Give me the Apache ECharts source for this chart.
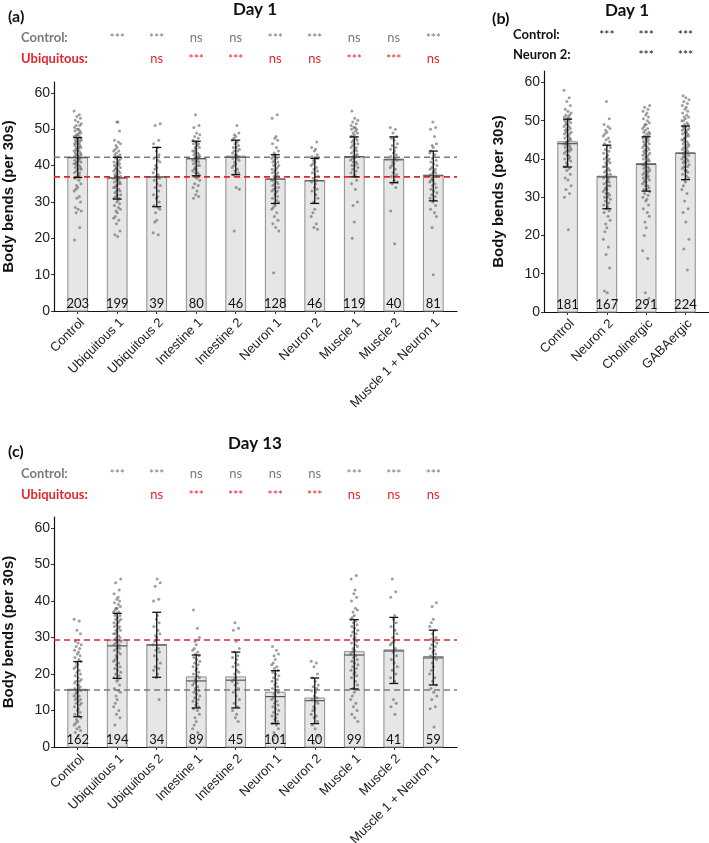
<!DOCTYPE html>
<html><head><meta charset="utf-8">
<script src="https://cdn.jsdelivr.net/npm/echarts@6/dist/echarts.min.js"></script>
<style>html,body{margin:0;padding:0;background:#fff}#c{width:709px;height:843px}</style>
</head><body><div id="c"></div>
<script>
// ---------- DATA ----------
const catsA = ['Control','Ubiquitous 1','Ubiquitous 2','Intestine 1','Intestine 2','Neuron 1','Neuron 2','Muscle 1','Muscle 2','Muscle 1 + Neuron 1'];
const barA = [42.3,36.6,36.8,41.9,42.6,36.3,35.9,42.5,41.8,37.4];
const midA = [42.2,36.6,36.9,41.9,42.3,36.3,35.8,42.4,41.6,37.2];
const loA  = [36.7,30.8,28.7,37.2,37.5,29.6,29.6,36.9,35.3,30.3];
const hiA  = [47.7,42.3,45.0,46.7,47.0,43.0,42.0,47.9,47.9,44.0];
const nA   = [203,199,39,80,46,128,46,119,40,81];
const refA = [42.3, 36.9];
const sigCtrlA = ['','***','***','ns','ns','***','***','ns','ns','***'];
const sigUbqA  = ['','','ns','***','***','ns','ns','***','***','ns'];
const ptsA = [
 [55,54,53.5,53,52.5,52,51.5,51,51,50.5,50,50,49.5,49.5,49,49,48.5,48.5,48,48,48,47.5,47.5,47,47,47,46.5,46.5,46,46,46,45.5,45.5,45,45,45,44.5,44.5,44,44,44,43.5,43.5,43,43,43,42.5,42.5,42,42,42,41.5,41.5,41,41,41,40.5,40.5,40,40,39.5,39.5,39,39,38.5,38,38,37.5,37,37,36.5,36,35,34.5,34,33.5,33,31.5,31,30,28.5,28,27.5,27,23,19.5],
 [52,52,49.5,47,46.5,46,45.5,45,44.5,44,44,43.5,43,43,42.5,42,42,41.5,41,41,40.5,40.5,40,40,39.5,39.5,39,39,38.5,38.5,38,38,37.5,37.5,37,37,36.5,36.5,36,36,35.5,35.5,35,35,34.5,34.5,34,34,33.5,33,33,32.5,32,32,31.5,31,31,30.5,30,29.5,29,28.5,28,27.5,27,26,25.5,25,24,22,21,20.5],
 [51.5,51,47,46,45,44,43,42,41.5,41,40,39.5,39,38,37.5,37,36.5,36,35,34.5,34,33,32,31.5,31,30,29,28.5,28,27,25,24.5,21.5,21],
 [54,51,50.5,49,48.5,48,47.5,47,46.5,46.5,46,46,45.5,45,45,44.5,44,44,43.5,43.5,43,43,42.5,42.5,42,42,41.5,41.5,41,41,40.5,40,40,39.5,39,39,38.5,38,38,37.5,37,36.5,36,35,34.5,34,33,32,31.5,31],
 [51,49,48.5,48,47.5,47,46.5,46,45.5,45,45,44.5,44,44,43.5,43,43,42.5,42,42,41.5,41,40.5,40,39.5,39,38.5,38,37.5,34,33.5,22],
 [54,53,48,47.5,47,46,45,44,43.5,43,42.5,42,42,41.5,41,41,40.5,40,40,39.5,39,39,38.5,38,38,37.5,37,37,36.5,36,36,35.5,35,35,34.5,34,34,33.5,33,33,32.5,32,31.5,31,30.5,30,29.5,29,28.5,28,27,26,25,24,23,22,10.5],
 [46.5,45,44.5,44,43,42.5,42,42,41.5,41,40.5,40,39.5,39,38.5,38,37.5,37,36.5,36,35.5,35,34,33.5,33,32,31,30,28,27,26,24,23,22.5],
 [55,53,52.5,52,51.5,51,50.5,50.5,50,50,49.5,49,49,48.5,48,48,47.5,47,47,46.5,46,46,45.5,45,45,44.5,44,44,43.5,43,43,42.5,42,42,41.5,41,41,40.5,40,40,39.5,39,38.5,38,37.5,37,36,35,33.5,30,29,24.5,20],
 [50.5,50,49,48,47.5,47,46,45.5,45,44.5,44,43.5,43,42.5,42,41.5,41,40.5,40,39.5,39,38,37.5,37,36,35.5,35,34,27.5,18.5],
 [52,50.5,50,48,46,45.5,45,44,43.5,43,42,41.5,41,40.5,40,39.5,39,39,38.5,38,38,37.5,37,37,36.5,36,36,35.5,35,34.5,34,33.5,33,32.5,32,31.5,31,30.5,30,29,28,27,26,23,10]
];

const catsB = ['Control','Neuron 2','Cholinergic','GABAergic'];
const barB = [44.5,35.5,38.8,41.6];
const midB = [44.0,35.3,38.6,41.5];
const loB  = [37.9,27.0,31.6,34.6];
const hiB  = [50.4,43.6,45.8,48.6];
const nB   = [181,167,291,224];
const sigCtrlB = ['','***','***','***'];
const sigN2B   = ['','','***','***'];
const ptsB = [
 [58,56,55,54,53,52.5,52,51.5,51.5,51,51,50.5,50.5,50,50,49.5,49.5,49,49,48.5,48.5,48,48,47.5,47.5,47,47,46.5,46.5,46,46,45.5,45.5,45,45,44.5,44.5,44,44,43.5,43.5,43,43,42.5,42.5,42,42,41.5,41,41,40.5,40,40,39.5,39,38.5,38,38,37.5,37,36,35,34.5,33,32,31,30,21.5],
 [55,50.5,49,48.5,48,47.5,47,46.5,46,45.5,45,44.5,44,43.5,43,42.5,42,41.5,41,40.5,40,40,39.5,39,39,38.5,38,38,37.5,37,37,36.5,36,36,35.5,35,35,34.5,34,34,33.5,33,33,32.5,32,32,31.5,31,31,30.5,30,30,29.5,29,28.5,28,27.5,27,26.5,26,25,24,23,22,21,19,17,15,11.5,5.5,5],
 [54,53.5,53,52.5,52,51.5,51,50.5,50,49.5,49,49,48.5,48,48,47.5,47,47,46.5,46.5,46,46,45.5,45.5,45,45,44.5,44.5,44,44,43.5,43.5,43,43,42.5,42.5,42,42,41.5,41.5,41,41,40.5,40.5,40,40,39.5,39.5,39,39,38.5,38.5,38,38,37.5,37.5,37,37,36.5,36.5,36,36,35.5,35.5,35,35,34.5,34.5,34,34,33.5,33,33,32.5,32,32,31.5,31,30.5,30,29.5,29,28,27,26,25,23.5,22,20,16,14,5,3.5],
 [56.5,56,55.5,55,54.5,54,53.5,53,52.5,52,51.5,51,51,50.5,50,50,49.5,49,49,48.5,48.5,48,48,47.5,47.5,47,47,46.5,46.5,46,46,45.5,45.5,45,45,44.5,44.5,44,44,43.5,43.5,43,43,42.5,42.5,42,42,41.5,41.5,41,41,40.5,40.5,40,40,39.5,39.5,39,39,38.5,38,38,37.5,37,37,36.5,36,35.5,35,34.5,34,33,32,31,29,27,26,23.5,19,16.5,11]
];

const catsC = catsA;
const barC = [15.8,29.3,28.1,19.2,19.2,15.0,13.4,26.1,26.6,24.8];
const midC = [15.6,27.7,27.9,18.1,18.3,13.8,12.7,25.2,26.3,24.4];
const loC  = [8.3,18.8,19.1,10.7,10.7,6.4,6.4,15.9,17.4,17.0];
const hiC  = [23.4,36.6,36.9,25.2,26.0,20.9,18.9,34.9,35.5,32.0];
const nC   = [162,194,34,89,45,101,40,99,41,59];
const refC = [15.6, 29.3];
const sigCtrlC = ['','***','***','ns','ns','ns','ns','***','***','***'];
const sigUbqC  = ['','','ns','***','***','***','***','ns','ns','ns'];
const ptsC = [
 [35,34.5,32,31,29,28.5,28,27.5,27,26.5,26,25.5,25,24.5,24,23.5,23,22.5,22,21.5,21,20.5,20,19.5,19,18.5,18,18,17.5,17,17,16.5,16,16,15.5,15,15,14.5,14,14,13.5,13,13,12.5,12,12,11.5,11,10.5,10,9.5,9,8.5,8,7.5,7,6.5,6,5.5,5,4.5,4,3],
 [46,45,43,42,41,40.5,40,39.5,39,38.5,38,38,37.5,37,37,36.5,36,36,35.5,35,35,34.5,34,34,33.5,33,33,32.5,32,32,31.5,31,31,30.5,30,30,29.5,29,29,28.5,28,28,27.5,27,27,26.5,26,25.5,25,24.5,24,23.5,23,22.5,22,21.5,21,20.5,20,19.5,19,18.5,18,17,16,15.5,15,14,13,12,11,10,9,8,6],
 [46,45,44,40.5,40,36,35,34,33,32,31,30.5,30,29,28,27,26.5,26,25,24,23,22,21.5,21,20,19,13],
 [37.5,32.5,30,29,28,27,26.5,26,25.5,25,24.5,24,23.5,23,22.5,22,21.5,21,20.5,20,19.5,19,18.5,18,17.5,17,16.5,16,15.5,15,14.5,14,13.5,13,12.5,12,11.5,11,10.5,10,9,8,7,6,5,4],
 [34,32.5,32,29,27,26,25,24.5,24,23,22.5,22,21,20.5,20,19,18.5,18,17.5,17,16,15,14,13,12,11,10,9,8,7],
 [27.5,26.5,25.5,25,24,23,22.5,22,21.5,21,20.5,20,19.5,19,18.5,18,17.5,17,16.5,16,15.5,15,14.5,14,13.5,13,12.5,12,11.5,11,10.5,10,9.5,9,8.5,8,7.5,7,6.5,6,5,4,3,2],
 [23.5,23,22,20,19,18,17,16.5,16,15.5,15,14,13.5,13,12.5,12,11,10.5,10,9,8.5,8,7,6,5,3,1],
 [47,46,43,42,41,40,38,37.5,37,36,35.5,35,34.5,34,33.5,33,32.5,32,31.5,31,30.5,30,29.5,29,28.5,28,27.5,27,26.5,26,25.5,25,24.5,24,23.5,23,22.5,22,21.5,21,20.5,20,19.5,19,18,17,16,15,14,13,12,11,10,9,8,7],
 [46,42.5,41,36,35,34,33,32,31,30,29,28.5,28,27,26,25,24,23,22,21,20,19,18,13,12,11,9],
 [39.5,38.5,35,34,33,32,31,30,29.5,29,28.5,28,27.5,27,26.5,26,25.5,25,24.5,24,23,22,21,20,19,18,17,16,15,14,13,11,10.5,5.5]
];
const yTicks = [0,10,20,30,40,50,60];

// ---------- STYLE / LAYOUT ----------
const GREY = '#7a7a7a', RED = '#e3262b';
const jit = [-0.09,0.04,-0.02,0.07,-0.06,0.01,0.09,-0.04,0.05,-0.08,0.02,-0.01,0.06,-0.07,0.03,0.08,-0.03,0.0,-0.05];
const panels = [
 {cats:catsA,bar:barA,mid:midA,lo:loA,hi:hiA,n:nA,pts:ptsA,
  refs:[{v:refA[0],c:GREY},{v:refA[1],c:RED}],
  grid:{left:54,top:82,width:403,height:229},
  rows:[{label:'Control:',marks:sigCtrlA,color:GREY,y:38},{label:'Ubiquitous:',marks:sigUbqA,color:RED,y:59}],
  labelX:21,title:'Day 1',titleX:255,titleY:10,tag:'(a)',tagX:8,tagY:17,nameGap:38},
 {cats:catsB,bar:barB,mid:midB,lo:loB,hi:hiB,n:nB,pts:ptsB,refs:[],
  grid:{left:544,top:71,width:165,height:241},
  rows:[{label:'Control:',marks:sigCtrlB,color:'#111',y:35},{label:'Neuron 2:',marks:sigN2B,color:'#111',y:55}],
  labelX:513,title:'Day 1',titleX:627,titleY:11,tag:'(b)',tagX:492,tagY:19,nameGap:38},
 {cats:catsC,bar:barC,mid:midC,lo:loC,hi:hiC,n:nC,pts:ptsC,
  refs:[{v:refC[0],c:GREY},{v:refC[1],c:RED}],
  grid:{left:54,top:517,width:403,height:230},
  rows:[{label:'Control:',marks:sigCtrlC,color:GREY,y:474},{label:'Ubiquitous:',marks:sigUbqC,color:RED,y:495}],
  labelX:21,title:'Day 13',titleX:255,titleY:444,tag:'(c)',tagX:8,tagY:452,nameGap:38}
];

const grids=[], xAxes=[], yAxes=[], series=[], graphics=[];
panels.forEach((p,g)=>{
  const idx = p.cats.map((_,i)=>i);
  grids.push(Object.assign({outerBoundsMode:'none',containLabel:false},p.grid));
  xAxes.push({gridIndex:g,type:'value',min:-0.6,max:p.cats.length-0.4,
    axisLine:{show:true,onZero:false,lineStyle:{color:'#111',width:1.2}},
    axisTick:{show:true,customValues:idx,length:3,lineStyle:{color:'#333'}},
    axisLabel:{customValues:idx,formatter:v=>p.cats[Math.round(v)],rotate:45,margin:5,
      verticalAlign:'top',fontFamily:'Liberation Sans',fontSize:13,color:'#222'},
    splitLine:{show:false}});
  yAxes.push({gridIndex:g,type:'value',min:0,max:63,
    axisLine:{show:true,onZero:false,lineStyle:{color:'#111',width:1.2}},
    axisTick:{show:true,customValues:yTicks,length:3,lineStyle:{color:'#333'}},
    axisLabel:{customValues:yTicks,fontFamily:'Liberation Sans',fontSize:14,color:'#222',margin:4},
    splitLine:{show:false},
    name:'Body bends (per 30s)',nameLocation:'middle',nameGap:p.nameGap,
    nameTextStyle:{fontFamily:'Liberation Sans',fontWeight:'bold',fontSize:15,color:'#111'}});
  // bars
  series.push({type:'custom',xAxisIndex:g,yAxisIndex:g,z:1,
    data:p.bar.map((v,i)=>[i,v]),
    renderItem:(params,api)=>{
      const i=api.value(0), v=api.value(1);
      const a=api.coord([i-0.25,v]), b=api.coord([i+0.25,0]);
      return {type:'rect',shape:{x:a[0],y:a[1],width:b[0]-a[0],height:b[1]-a[1]},
        style:{fill:'#e6e6e6',stroke:'#8c8c8c',lineWidth:1}};
    }});
  // reference lines
  p.refs.forEach(r=>{
    series.push({type:'line',xAxisIndex:g,yAxisIndex:g,z:3,symbol:'none',silent:true,
      data:[[-0.6,r.v],[p.cats.length-0.4,r.v]],
      lineStyle:{color:r.c,width:1.6,type:[6,4]}});
  });
  // points
  const pd=[]; let k=0;
  p.pts.forEach((arr,i)=>arr.forEach(v=>{pd.push([i+jit[k%jit.length],v]);k++;}));
  series.push({type:'scatter',xAxisIndex:g,yAxisIndex:g,z:4,symbolSize:3,silent:true,
    itemStyle:{color:'rgba(95,95,95,0.75)'},data:pd});
  // error bars + centre line
  series.push({type:'custom',xAxisIndex:g,yAxisIndex:g,z:5,
    data:p.lo.map((v,i)=>[i,v,p.hi[i],p.mid[i]]),
    renderItem:(params,api)=>{
      const i=api.value(0);
      const lo=api.coord([i,api.value(1)]), hi=api.coord([i,api.value(2)]);
      const mL=api.coord([i-0.25,api.value(3)]), mR=api.coord([i+0.25,api.value(3)]);
      const cw=4.5, st={stroke:'#111',lineWidth:1.3};
      return {type:'group',children:[
        {type:'line',shape:{x1:mL[0],y1:mL[1],x2:mR[0],y2:mR[1]},style:{stroke:'#555',lineWidth:1.2}},
        {type:'line',shape:{x1:lo[0],y1:lo[1],x2:hi[0],y2:hi[1]},style:st},
        {type:'line',shape:{x1:hi[0]-cw,y1:hi[1],x2:hi[0]+cw,y2:hi[1]},style:st},
        {type:'line',shape:{x1:lo[0]-cw,y1:lo[1],x2:lo[0]+cw,y2:lo[1]},style:st}
      ]};
    }});
  // counts
  series.push({type:'custom',xAxisIndex:g,yAxisIndex:g,z:6,
    data:p.n.map((v,i)=>[i,0,v]),
    renderItem:(params,api)=>{
      const c=api.coord([api.value(0),0]);
      return {type:'text',x:c[0],y:c[1]-7,style:{text:String(api.value(2)),
        font:'13px Lato',fill:'#111',align:'center',verticalAlign:'middle'}};
    }});
  // significance marks
  p.rows.forEach(r=>{
    series.push({type:'custom',xAxisIndex:g,yAxisIndex:g,z:6,clip:false,
      data:r.marks.map((m,i)=>[i,0,m]).filter(d=>d[2]),
      renderItem:(params,api)=>{
        const c=api.coord([api.value(0),0]);
        const txt=r.marks[api.value(0)];
        return {type:'text',x:c[0],y:r.y,style:{text:txt,font:(txt==='ns'?'13px':'12px')+' Lato',
          fill:r.color,align:'center',verticalAlign:'middle'}};
      }});
    graphics.push({type:'text',x:p.labelX,y:r.y,style:{text:r.label,font:'bold 13px Lato',fill:r.color,
      textAlign:'left',textVerticalAlign:'middle'}});
  });
  graphics.push({type:'text',x:p.titleX,y:p.titleY,style:{text:p.title,font:'bold 17px Lato',fill:'#111',
    textAlign:'center',textVerticalAlign:'middle'}});
  graphics.push({type:'text',x:p.tagX,y:p.tagY,style:{text:p.tag,font:'bold 16px Lato',fill:'#111',
    textAlign:'left',textVerticalAlign:'middle'}});
});

const chart = echarts.init(document.getElementById('c'),null,{renderer:'canvas'});
chart.setOption({animation:false,backgroundColor:'#fff',grid:grids,xAxis:xAxes,yAxis:yAxes,series:series,graphic:graphics});
</script></body></html>
